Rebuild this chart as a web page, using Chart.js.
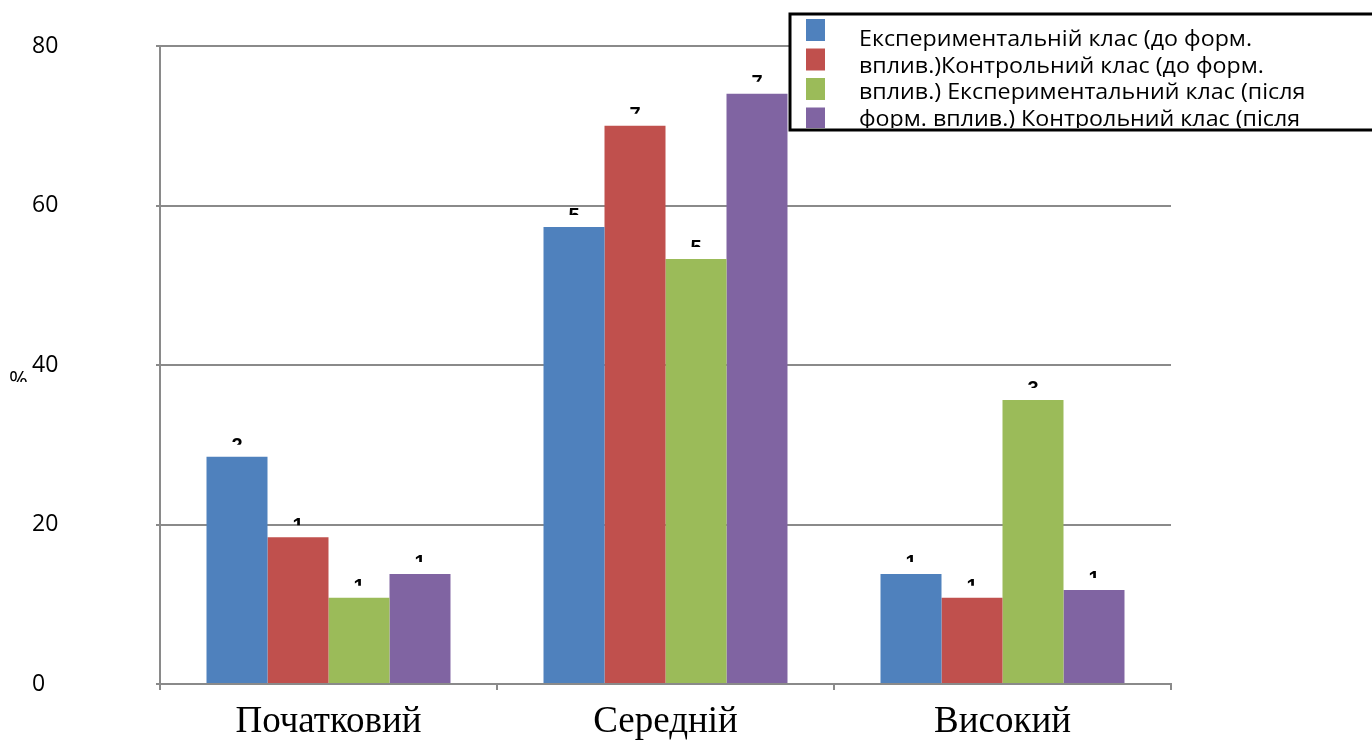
<!DOCTYPE html>
<html lang="uk">
<head>
    <meta charset="UTF-8">
    <title>Рівні сформованості</title>
    <style>
        body { margin: 0; background: #fff; }
        .wrap { position: relative; width: 1372px; height: 740px; }
    </style>
    <script src="https://cdn.jsdelivr.net/npm/chart.js"></script>
</head>
<body>
    <div class="wrap">
        <canvas id="chart" width="1372" height="740"></canvas>
    </div>

    <script>
        // Data
        const levels = ['Початковий', 'Середній', 'Високий'];
        const seriesNames = [
            'Експериментальній клас (до форм. вплив.)',
            'Контрольний клас (до форм. вплив.)',
            'Експериментальний клас (після форм. вплив.)',
            'Контрольний клас (після форм. вплив.)'
        ];
        const expBefore = [28.5, 57.3, 13.8];
        const ctrlBefore = [18.4, 70.0, 10.8];
        const expAfter = [10.8, 53.3, 35.6];
        const ctrlAfter = [13.8, 74.0, 11.8];
        const yTicks = [0, 20, 40, 60, 80];
        const yUnit = '%';

        // legend text as it wraps in the original box
        const legendLines = [
            'Експериментальній клас (до форм.',
            'вплив.)Контрольний клас (до форм.',
            'вплив.) Експериментальний клас (після',
            'форм. вплив.) Контрольний клас (після'
        ];

        const colors = ['#4F81BD', '#C0504D', '#9BBB59', '#8064A2'];
        const gridGray = '#8a8a8a';
        const sansFont = '"Open Sans", "Noto Sans", sans-serif';

        // Clipped value labels above the bars (only the top of the first glyph shows)
        const clippedLabels = {
            id: 'clippedLabels',
            afterDatasetsDraw(chart) {
                const ctx = chart.ctx;
                ctx.save();
                ctx.font = 'bold 20px "Liberation Sans", Arial, sans-serif';
                ctx.fillStyle = '#000';
                ctx.textAlign = 'center';
                ctx.textBaseline = 'alphabetic';
                chart.data.datasets.forEach((ds, i) => {
                    chart.getDatasetMeta(i).data.forEach((bar, j) => {
                        const txt = String(ds.data[j]);
                        ctx.save();
                        ctx.beginPath();
                        ctx.rect(bar.x - 20, bar.y - 20, 40, 8);
                        ctx.clip();
                        ctx.fillText(txt.charAt(0), bar.x, bar.y - 5);
                        ctx.restore();
                    });
                });

                // the half-hidden unit sign left of the axis
                const yScale = chart.scales.y;
                const py = yScale.getPixelForValue(40);
                ctx.beginPath();
                ctx.rect(0, py + 6, 30, 11);
                ctx.clip();
                ctx.font = '23px ' + sansFont;
                ctx.textAlign = 'left';
                ctx.fillText(yUnit, 9, py + 23);
                ctx.restore();
            }
        };

        // Boxed legend in the top right, cut off like the original
        const boxLegend = {
            id: 'boxLegend',
            afterDraw(chart) {
                const ctx = chart.ctx;
                const bx = 790, by = 14, bh = 116;
                ctx.save();
                ctx.fillStyle = '#fff';
                ctx.fillRect(bx, by, 700, bh);
                ctx.lineWidth = 3;
                ctx.strokeStyle = '#000';
                ctx.strokeRect(bx, by, 700, bh);

                ctx.beginPath();
                ctx.rect(bx + 2, by + 2, 700, bh - 4);
                ctx.clip();

                chart.data.datasets.forEach((ds, i) => {
                    ctx.fillStyle = ds.backgroundColor;
                    ctx.fillRect(806, 19 + i * 29.5, 19, 22);
                });

                ctx.fillStyle = '#000';
                ctx.font = '22px ' + sansFont;
                ctx.textAlign = 'left';
                ctx.textBaseline = 'alphabetic';
                const sx = 393 / ctx.measureText(legendLines[0]).width;
                ctx.translate(859, 0);
                ctx.scale(sx, 1);
                legendLines.forEach((line, i) => {
                    ctx.fillText(line, 0, 46 + i * 26.5);
                });
                ctx.restore();
            }
        };

        const ctx = document.getElementById('chart').getContext('2d');
        new Chart(ctx, {
            type: 'bar',
            data: {
                labels: levels,
                datasets: [
                    { label: seriesNames[0], data: expBefore, backgroundColor: colors[0] },
                    { label: seriesNames[1], data: ctrlBefore, backgroundColor: colors[1] },
                    { label: seriesNames[2], data: expAfter, backgroundColor: colors[2] },
                    { label: seriesNames[3], data: ctrlAfter, backgroundColor: colors[3] }
                ]
            },
            options: {
                responsive: false,
                animation: false,
                layout: { padding: { top: 46, right: 201, bottom: 0, left: 32 } },
                datasets: {
                    bar: { categoryPercentage: 0.724, barPercentage: 1.0, borderWidth: 0 }
                },
                plugins: {
                    legend: { display: false },
                    tooltip: { enabled: false }
                },
                scales: {
                    x: {
                        afterFit(scale) { scale.height = 56; },
                        grid: {
                            display: true,
                            drawOnChartArea: false,
                            drawTicks: true,
                            tickLength: 6,
                            color: gridGray,
                            lineWidth: 2
                        },
                        border: { display: true, color: gridGray, width: 2 },
                        ticks: {
                            color: '#000',
                            padding: 10,
                            maxRotation: 0,
                            font: { family: '"Liberation Serif", "Times New Roman", serif', size: 37 }
                        }
                    },
                    y: {
                        min: 0,
                        max: 80,
                        afterFit(scale) { scale.width = 128; },
                        afterBuildTicks(scale) {
                            scale.ticks = yTicks.map(v => ({ value: v }));
                        },
                        grid: {
                            color: gridGray,
                            lineWidth: 2,
                            tickLength: 4
                        },
                        border: { display: true, color: gridGray, width: 2 },
                        ticks: {
                            color: '#000',
                            padding: 4,
                            crossAlign: 'far',
                            font: { family: sansFont, size: 23 }
                        }
                    }
                }
            },
            plugins: [clippedLabels, boxLegend]
        });
    </script>
</body>
</html>
